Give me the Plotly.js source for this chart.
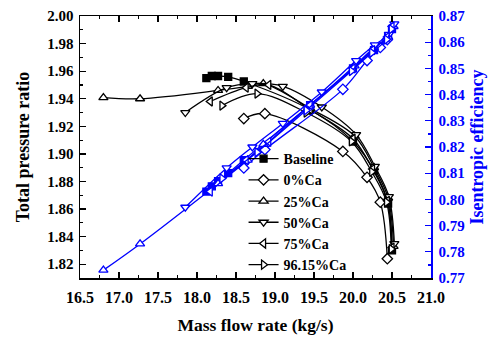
<!DOCTYPE html>
<html>
<head>
<meta charset="utf-8">
<script src="https://cdn.plot.ly/plotly-3.0.1.min.js"></script>
<style>html,body{margin:0;padding:0;background:#fff;}#chart{width:502px;height:339px;}</style>
</head>
<body>
<div id="chart"></div>
<script>
// ---- Data ----
const seriesNames = ["Baseline", "0%Ca", "25%Ca", "50%Ca", "75%Ca", "96.15%Ca"];

const flowBaseline = [18.12, 18.19, 18.27, 18.40, 18.60, 19.45, 20.00, 20.27, 20.45, 20.50];
const prBaseline   = [1.955, 1.9565, 1.9565, 1.9558, 1.9525, 1.932, 1.909, 1.888, 1.864, 1.830];
const effBaseline  = [0.803, 0.805, 0.807, 0.810, 0.815, 0.836, 0.850, 0.857, 0.862, 0.865];

const flowCa0 = [18.60, 18.87, 19.87, 20.18, 20.35, 20.44];
const prCa0   = [1.9256, 1.9292, 1.9018, 1.883, 1.865, 1.824];
const effCa0  = [0.812, 0.819, 0.842, 0.853, 0.858, 0.861];

const flowCa25 = [16.80, 17.27, 18.27, 18.65, 18.85, 19.45, 20.02, 20.27, 20.45, 20.52];
const prCa25   = [1.9408, 1.940, 1.946, 1.949, 1.951, 1.933, 1.913, 1.890, 1.868, 1.833];
const effCa25  = [0.773, 0.783, 0.806, 0.815, 0.821, 0.836, 0.851, 0.858, 0.862, 0.866];

const flowCa50 = [17.85, 18.38, 18.71, 19.10, 19.60, 20.04, 20.28, 20.46, 20.53];
const prCa50   = [1.930, 1.948, 1.951, 1.949, 1.934, 1.914, 1.891, 1.869, 1.835];
const effCa50  = [0.797, 0.812, 0.820, 0.829, 0.841, 0.853, 0.859, 0.863, 0.867];

const flowCa75 = [18.17, 18.63, 18.92, 19.45, 20.00, 20.25, 20.44, 20.50];
const prCa75   = [1.938, 1.948, 1.950, 1.932, 1.911, 1.889, 1.866, 1.832];
const effCa75  = [0.803, 0.815, 0.822, 0.836, 0.850, 0.857, 0.862, 0.866];

const flowCa96 = [18.32, 18.77, 19.40, 19.98, 20.24, 20.43, 20.49];
const prCa96   = [1.935, 1.9437, 1.930, 1.909, 1.887, 1.865, 1.831];
const effCa96  = [0.808, 0.818, 0.834, 0.849, 0.856, 0.861, 0.865];

const xTitle = "Mass flow rate (kg/s)";
const yTitle = "Total pressure ratio";
const y2Title = "Isentropic efficiency";

// ---- Build traces ----
const FONT = "Liberation Serif, Times New Roman, serif";
const BLUE = "#0000ff";
const symbols = ["square", "diamond", "triangle-up", "triangle-down", "triangle-left", "triangle-right"];
const flows = [flowBaseline, flowCa0, flowCa25, flowCa50, flowCa75, flowCa96];
const prs = [prBaseline, prCa0, prCa25, prCa50, prCa75, prCa96];
const effs = [effBaseline, effCa0, effCa25, effCa50, effCa75, effCa96];

const traces = [];
seriesNames.forEach((name, i) => {
  const filled = i === 0;
  traces.push({
    x: flows[i], y: prs[i], name: name, type: "scatter", mode: "lines+markers",
    line: {color: "#000", width: 1.3, shape: "spline", smoothing: 1},
    marker: {symbol: symbols[i], size: filled ? 7 : 8, color: filled ? "#000" : "#fff",
             line: {color: "#000", width: 1.3}},
    xaxis: "x", yaxis: "y", showlegend: true
  });
});
seriesNames.forEach((name, i) => {
  const filled = i === 0;
  traces.push({
    x: flows[i], y: effs[i], name: name + " efficiency", type: "scatter", mode: "lines+markers",
    line: {color: BLUE, width: 1.3, shape: "spline", smoothing: 1},
    marker: {symbol: symbols[i], size: filled ? 7 : 8, color: filled ? BLUE : "#fff",
             line: {color: BLUE, width: 1.3}},
    xaxis: "x", yaxis: "y2", showlegend: false
  });
});

const layout = {
  width: 502, height: 339,
  margin: {l: 80, r: 71, t: 16, b: 61},
  paper_bgcolor: "#fff", plot_bgcolor: "#fff",
  font: {family: FONT, size: 15, color: "#000", weight: "bold"},
  showlegend: true,
  legend: {x: 0.466, y: 0.515, xanchor: "left", yanchor: "top",
           bgcolor: "rgba(0,0,0,0)", borderwidth: 0, tracegroupgap: 0,
           font: {family: FONT, size: 14, color: "#000", weight: "bold"}},
  xaxis: {
    range: [16.5, 21.0], dtick: 0.5, tick0: 16.5, tickformat: ".1f",
    showline: true, linecolor: "#000", linewidth: 1.5, mirror: "ticks",
    ticks: "inside", ticklen: 6, tickwidth: 1.3, tickcolor: "#000",
    minor: {dtick: 0.25, ticks: "inside", ticklen: 3, tickcolor: "#000", tickwidth: 1.2},
    showgrid: false, zeroline: false, ticklabelstandoff: 4,
    tickfont: {family: FONT, size: 16, color: "#000", weight: "bold"},
    title: {text: xTitle, standoff: 14, font: {family: FONT, size: 17.5, color: "#000", weight: "bold"}}
  },
  yaxis: {
    range: [1.81, 2.00], dtick: 0.02, tickformat: ".2f",
    showline: true, linecolor: "#000", linewidth: 1.5,
    ticks: "inside", ticklen: 6, tickwidth: 1.3, tickcolor: "#000",
    minor: {dtick: 0.01, ticks: "inside", ticklen: 3, tickcolor: "#000", tickwidth: 1.2},
    showgrid: false, zeroline: false, ticklabelstandoff: 2,
    tickfont: {family: FONT, size: 15, color: "#000", weight: "bold"},
    title: {text: yTitle, standoff: 13, font: {family: FONT, size: 18, color: "#000", weight: "bold"}}
  },
  yaxis2: {
    overlaying: "y", side: "right",
    range: [0.77, 0.87], dtick: 0.01, tickformat: ".2f",
    showline: true, linecolor: BLUE, linewidth: 1.5,
    ticks: "inside", ticklen: 6, tickwidth: 1.3, tickcolor: BLUE,
    minor: {dtick: 0.005, ticks: "inside", ticklen: 3, tickcolor: BLUE, tickwidth: 1.2},
    showgrid: false, zeroline: false, ticklabelstandoff: 3,
    tickfont: {family: FONT, size: 15, color: BLUE, weight: "bold"},
    title: {text: y2Title, standoff: 6, font: {family: FONT, size: 18, color: BLUE, weight: "bold"}}
  }
};

Plotly.newPlot("chart", traces, layout, {displayModeBar: false, staticPlot: true});
</script>
</body>
</html>
